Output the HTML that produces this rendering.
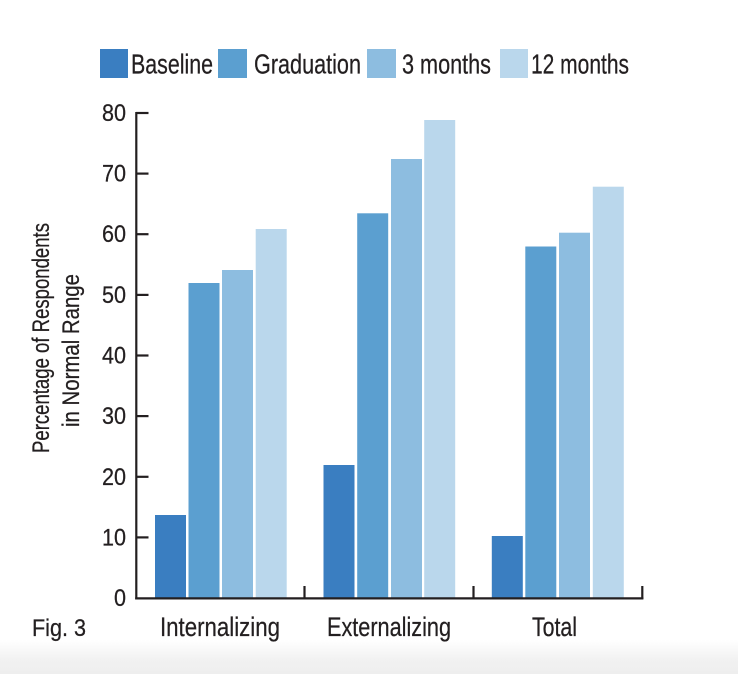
<!DOCTYPE html>
<html>
<head>
<meta charset="utf-8">
<style>
  html, body { margin: 0; padding: 0; background: #ffffff; }
  svg { display: block; }
  text { font-family: "Liberation Sans", "DejaVu Sans", sans-serif; fill: #231f20; stroke: #231f20; stroke-width: 0.25; }
</style>
</head>
<body>
<svg width="738" height="674" viewBox="0 0 738 674" xmlns="http://www.w3.org/2000/svg">
  <defs>
    <linearGradient id="bg" x1="0" y1="0" x2="0" y2="1">
      <stop offset="0" stop-color="#ffffff"/>
      <stop offset="0.6" stop-color="#f1f1f1"/>
      <stop offset="1" stop-color="#eeeeee"/>
    </linearGradient>
  </defs>
  <rect x="0" y="0" width="738" height="674" fill="#ffffff"/>
  <rect x="0" y="640" width="738" height="34" fill="url(#bg)"/>

  <!-- Legend -->
  <rect x="100" y="49" width="28" height="29" fill="#3a7ec1"/>
  <text x="131" y="73.5" font-size="27.5" textLength="82" lengthAdjust="spacingAndGlyphs">Baseline</text>
  <rect x="218" y="49" width="29" height="29" fill="#5b9fd0"/>
  <text x="254" y="73.5" font-size="27.5" textLength="107" lengthAdjust="spacingAndGlyphs">Graduation</text>
  <rect x="367" y="49" width="29" height="29" fill="#8dbde0"/>
  <text x="402" y="73.5" font-size="27.5" textLength="89" lengthAdjust="spacingAndGlyphs">3 months</text>
  <rect x="500" y="49" width="28" height="29" fill="#bad7ec"/>
  <text x="531" y="73.5" font-size="27.5" textLength="98" lengthAdjust="spacingAndGlyphs">12 months</text>

  <!-- Bars: Internalizing -->
  <rect x="155" y="515" width="31" height="83" fill="#3a7ec1"/>
  <rect x="188.5" y="283" width="31" height="315" fill="#5b9fd0"/>
  <rect x="222" y="270" width="31" height="328" fill="#8dbde0"/>
  <rect x="255.7" y="229" width="31" height="369" fill="#bad7ec"/>

  <!-- Bars: Externalizing -->
  <rect x="323.5" y="465" width="31" height="133" fill="#3a7ec1"/>
  <rect x="357.2" y="213.3" width="31" height="384.7" fill="#5b9fd0"/>
  <rect x="391" y="159" width="31" height="439" fill="#8dbde0"/>
  <rect x="424.2" y="120" width="31" height="478" fill="#bad7ec"/>

  <!-- Bars: Total -->
  <rect x="491.8" y="536" width="31" height="62" fill="#3a7ec1"/>
  <rect x="525.3" y="246.5" width="31" height="351.5" fill="#5b9fd0"/>
  <rect x="559" y="232.7" width="31" height="365.3" fill="#8dbde0"/>
  <rect x="592.8" y="186.7" width="31" height="411.3" fill="#bad7ec"/>

  <!-- Axes -->
  <g stroke="#231f20" stroke-width="2.2" fill="none">
    <line x1="136.3" y1="112" x2="136.3" y2="599.4"/>
    <line x1="135.2" y1="598.4" x2="643.4" y2="598.4"/>
    <line x1="136" y1="113" x2="148.5" y2="113"/>
    <line x1="136" y1="173.6" x2="148.5" y2="173.6"/>
    <line x1="136" y1="234.2" x2="148.5" y2="234.2"/>
    <line x1="136" y1="294.9" x2="148.5" y2="294.9"/>
    <line x1="136" y1="355.5" x2="148.5" y2="355.5"/>
    <line x1="136" y1="416.1" x2="148.5" y2="416.1"/>
    <line x1="136" y1="476.8" x2="148.5" y2="476.8"/>
    <line x1="136" y1="537.4" x2="148.5" y2="537.4"/>
    <line x1="304.5" y1="598" x2="304.5" y2="586"/>
    <line x1="473.5" y1="598" x2="473.5" y2="586"/>
    <line x1="642.3" y1="599" x2="642.3" y2="586"/>
  </g>

  <!-- Y tick labels -->
  <g font-size="24" text-anchor="end">
    <text x="126" y="121" textLength="24" lengthAdjust="spacingAndGlyphs">80</text>
    <text x="126" y="181.6" textLength="24" lengthAdjust="spacingAndGlyphs">70</text>
    <text x="126" y="242.2" textLength="24" lengthAdjust="spacingAndGlyphs">60</text>
    <text x="126" y="302.9" textLength="24" lengthAdjust="spacingAndGlyphs">50</text>
    <text x="126" y="363.5" textLength="24" lengthAdjust="spacingAndGlyphs">40</text>
    <text x="126" y="424.1" textLength="24" lengthAdjust="spacingAndGlyphs">30</text>
    <text x="126" y="484.8" textLength="24" lengthAdjust="spacingAndGlyphs">20</text>
    <text x="126" y="545.4" textLength="24" lengthAdjust="spacingAndGlyphs">10</text>
    <text x="126" y="606" textLength="12" lengthAdjust="spacingAndGlyphs">0</text>
  </g>

  <!-- Y axis title -->
  <text transform="translate(49,453) rotate(-90)" font-size="24.5" textLength="230" lengthAdjust="spacingAndGlyphs">Percentage of Respondents</text>
  <text transform="translate(79,427) rotate(-90)" font-size="24.5" textLength="153" lengthAdjust="spacingAndGlyphs">in Normal Range</text>

  <!-- Category labels -->
  <text x="160" y="636" font-size="27" textLength="120" lengthAdjust="spacingAndGlyphs">Internalizing</text>
  <text x="327" y="636" font-size="27" textLength="124" lengthAdjust="spacingAndGlyphs">Externalizing</text>
  <text x="532" y="636" font-size="27" textLength="45" lengthAdjust="spacingAndGlyphs">Total</text>

  <!-- Fig label -->
  <text x="32" y="636" font-size="24" textLength="54" lengthAdjust="spacingAndGlyphs">Fig. 3</text>
</svg>
</body>
</html>
